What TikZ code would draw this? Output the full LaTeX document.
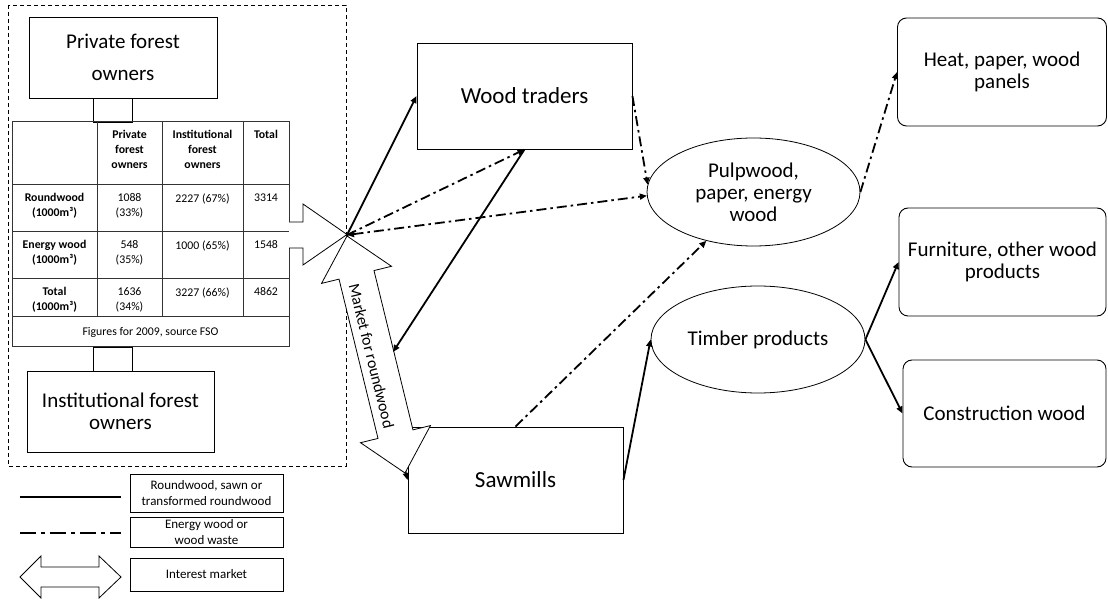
\documentclass[tikz,border=0pt]{standalone}
\usepackage{fontspec}
\setmainfont{Carlito}
\usetikzlibrary{shapes.geometric,arrows.meta,calc}
\begin{document}
\begin{tikzpicture}[x=1pt,y=-1pt,
  box/.style={draw, line width=0.9pt, inner sep=0pt, align=center},
  rbox/.style={box, rounded corners=9pt},
  oval/.style={draw, ellipse, line width=0.8pt, inner sep=0pt, align=center},
  big/.style={font=\fontsize{21}{22}\selectfont},
  bigger/.style={font=\fontsize{23}{25}\selectfont},
  tbl/.style={line width=1pt, draw=black!80},
  cell/.style={anchor=north, inner sep=0pt, align=center, font=\fontsize{11.8}{15}\selectfont},
  hcell/.style={cell, font=\fontsize{11.8}{15}\selectfont\bfseries},
  wood/.style={line width=1.8pt, -{Triangle[length=7pt,width=6pt]}},
  energy/.style={line width=1.8pt, dash pattern=on 10pt off 4pt on 2.5pt off 4pt, -{Triangle[length=7pt,width=6pt]}},
  legtext/.style={box, line width=0.8pt, minimum width=153pt, font=\fontsize{13}{16}\selectfont},
  blockarrow/.style={draw, fill=white, line width=0.8pt, line join=miter}
]
\useasboundingbox (0,0) rectangle (1108,601);

% outer dashed frame
\draw[line width=0.8pt, dash pattern=on 4pt off 3pt] (8,5) rectangle (346,466);

% owners boxes
\node[box, big, font=\fontsize{21}{32}\selectfont, minimum width=188pt, minimum height=81pt] (pfo) at (123,57.5) {Private forest\\owners};
\node[box, big, minimum width=187pt, minimum height=81pt] (ifo) at (120.5,411.5) {Institutional forest\\owners};
\draw[line width=0.9pt] (93,98) rectangle (132,122);
\draw[line width=0.9pt] (93,347) rectangle (132,371);

% table
\draw[tbl] (12,122) rectangle (289,347);
\foreach \yy in {185,232,279,317} \draw[tbl] (12,\yy) -- (289,\yy);
\foreach \xx in {97,162,243} \draw[tbl] (\xx,122) -- (\xx,317);
\node[hcell] (h2) at (129.5,130.5) {Private\\forest\\owners};
\node[hcell] (h3) at (202.5,130.5) {Institutional\\forest\\owners};
\node[hcell] (h4) at (266,130.5) {Total};
\node[hcell] (r1) at (54.5,193.5) {Roundwood\\(1000m³)};
\node[cell] (r12) at (129.5,193.5) {1088\\(33\%)};
\node[cell] (r13) at (202.5,193.5) {2227 (67\%)};
\node[cell] (r14) at (266,193.5) {3314};
\node[hcell] (r2) at (54.5,240.5) {Energy wood\\(1000m³)};
\node[cell] (r22) at (129.5,240.5) {548\\(35\%)};
\node[cell] (r23) at (202.5,240.5) {1000 (65\%)};
\node[cell] (r24) at (266,240.5) {1548};
\node[hcell] (r3) at (54.5,287.5) {Total\\(1000m³)};
\node[cell] (r32) at (129.5,287.5) {1636\\(34\%)};
\node[cell] (r33) at (202.5,287.5) {3227 (66\%)};
\node[cell] (r34) at (266,287.5) {4862};
\node[cell, anchor=center] (foot) at (150.5,332) {Figures for 2009, source FSO};

% actors
\node[box, bigger, minimum width=215pt, minimum height=106pt] (wt) at (524.5,96) {Wood traders};
\node[box, bigger, minimum width=215pt, minimum height=106pt] (saw) at (515.5,480) {Sawmills};
\node[oval, big, minimum width=213pt, minimum height=108pt] (pulp) at (753.5,192) {Pulpwood,\\paper, energy\\wood};
\node[oval, big, minimum width=214pt, minimum height=107pt] (timber) at (758,339.5) {Timber products};
\node[rbox, big, minimum width=209pt, minimum height=108pt] (heat) at (1002,72) {Heat, paper, wood\\panels};
\node[rbox, big, minimum width=207pt, minimum height=108pt] (furn) at (1002.5,262) {Furniture, other wood\\products};
\node[rbox, big, minimum width=203pt, minimum height=107pt] (cons) at (1004.5,413.5) {Construction wood};

\coordinate (star) at (347,235);
\coordinate (mk) at (393,352);

% block arrow out of the table
\draw[blockarrow] (289,222) -- (303,222) -- (303,204) -- (347,234.5) -- (303,265) -- (303,248) -- (289,248);

% hidden roundwood flow to sawmills (under the market arrow)
\draw[wood] (star) -- (saw.west);

% market for roundwood double arrow
\begin{scope}[shift={(376,354.5)}, rotate=-76.25]
\draw[blockarrow] (-122,0) -- (-82,-36) -- (-82,-18) -- (82,-18) -- (82,-36) -- (122,0)
  -- (82,36) -- (82,18) -- (-82,18) -- (-82,36) -- cycle;
\end{scope}
\node[rotate=-76.25, inner sep=0pt, font=\fontsize{16}{18}\selectfont] (mtext) at (371.5,356) {Market for roundwood};

% flows
\draw[wood] (star) -- (wt.west);
\draw[wood] (wt.south) -- (mk);
\draw[energy] (star) -- (wt.south);
\draw[energy, {Triangle[length=7pt,width=6pt]}-{Triangle[length=7pt,width=6pt]}] (star) -- (pulp.182);
\draw[energy] (wt.east) -- (pulp.176);
\draw[energy] (saw.north) -- (pulp.226);
\draw[wood] (saw.east) -- (timber.west);
\draw[wood] (timber.east) -- (furn.west);
\draw[wood] (timber.east) -- (cons.west);
\draw[energy] (pulp.east) -- (heat.west);

% legend
\coordinate (l1a) at (20,497); \coordinate (l1b) at (121,497);
\coordinate (l2a) at (20,533); \coordinate (l2b) at (121,533);
\draw[line width=2.2pt] (l1a) -- (l1b);
\draw[line width=2.6pt, dash pattern=on 16pt off 5pt on 4pt off 5pt] (l2a) -- (l2b);
\draw[blockarrow] (20,577) -- (41,556) -- (41,567) -- (99,567) -- (99,556) -- (121,577)
  -- (99,598) -- (99,587) -- (41,587) -- (41,598) -- cycle;
\node[legtext, minimum height=38pt] (leg1) at (206.5,493) {Roundwood, sawn or\\transformed roundwood};
\node[legtext, minimum height=30pt] (leg2) at (206.5,532) {Energy wood or\\wood waste};
\node[legtext, minimum height=33pt] (leg3) at (206.5,574.5) {Interest market};
\end{tikzpicture}
\end{document}
